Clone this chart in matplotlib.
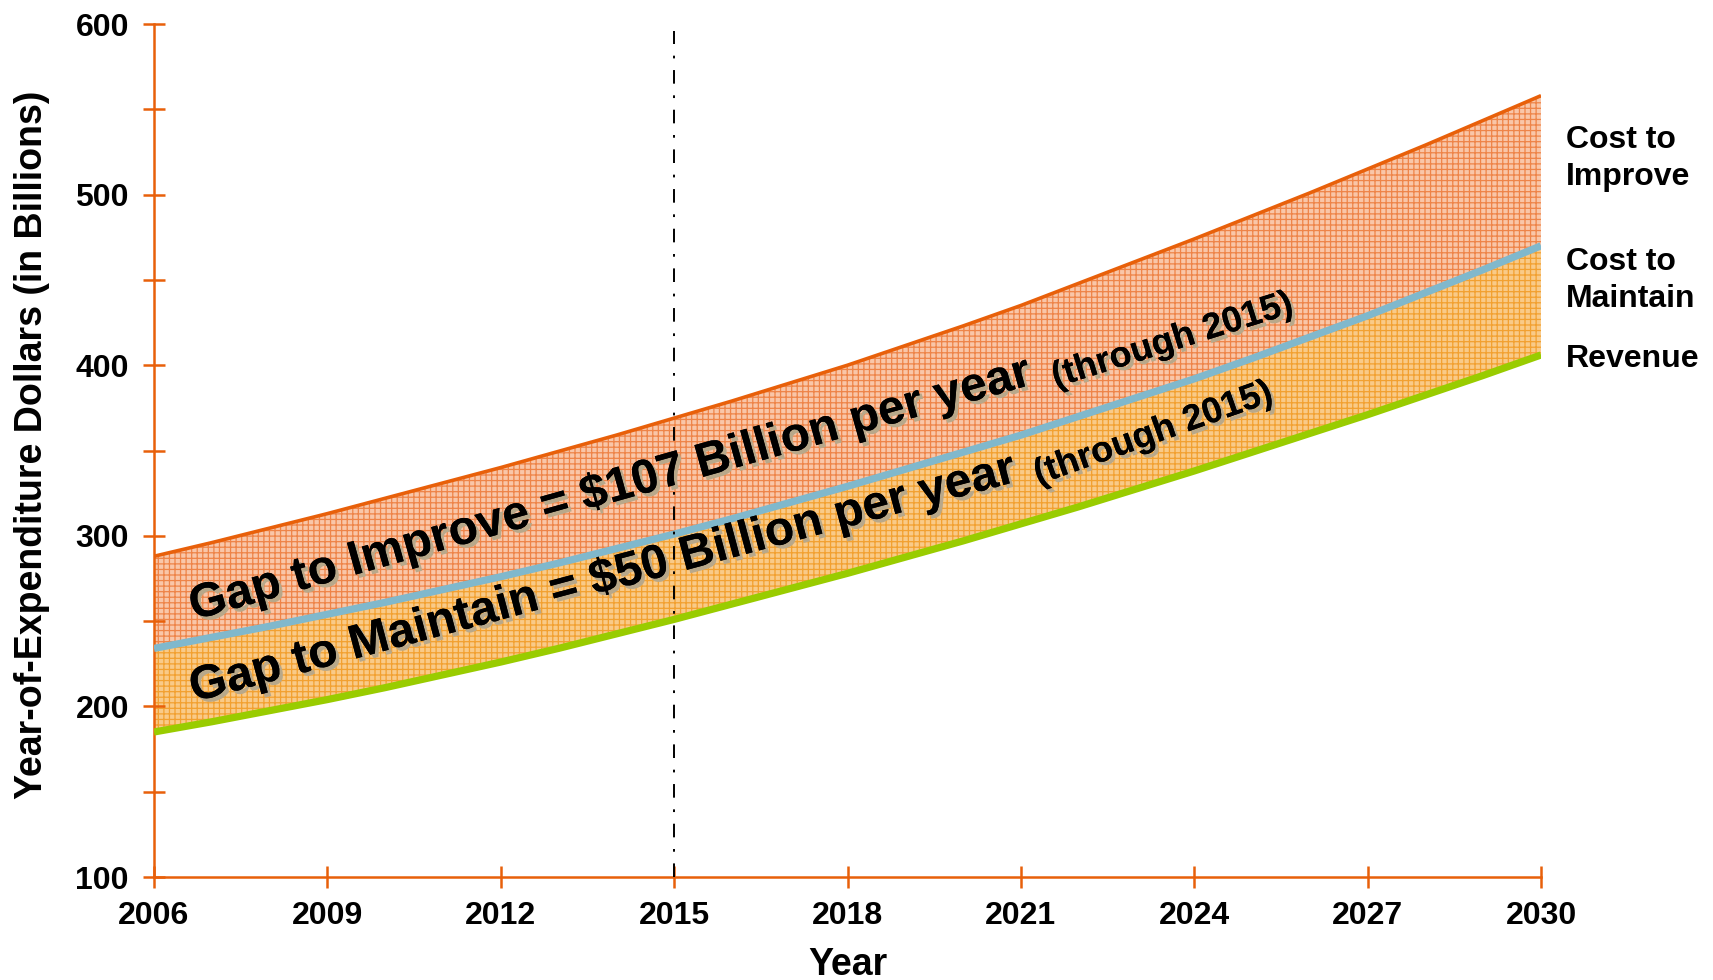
import matplotlib.pyplot as plt
import matplotlib.patheffects as pe
plt.switch_backend('agg')

plt.rcParams['font.family'] = ['Liberation Sans', 'DejaVu Sans']
plt.rcParams['font.weight'] = 'bold'
plt.rcParams['hatch.linewidth'] = 0.9

years = list(range(2006, 2031))
cost_to_improve = [288, 296, 304.5, 313, 322, 331, 340, 349.5, 359, 369, 379, 389.5, 400,
                   411.5, 423, 435, 448, 461, 474, 487.5, 501, 515, 529, 543.5, 558]
cost_to_maintain = [234, 240.5, 247, 254, 261, 268.5, 276, 284, 292.5, 301, 310, 319.5, 329,
                    339, 349, 359, 370, 381, 392, 404, 416.5, 429, 442.5, 456, 470]
revenue = [185, 191, 197.5, 204, 211, 218.5, 226, 234, 242.5, 251, 260, 269, 278,
           287.5, 297, 307, 317, 327.5, 338, 349, 360, 371, 382.5, 394, 406]

x_ticks = [2006, 2009, 2012, 2015, 2018, 2021, 2024, 2027, 2030]
y_ticks = [100, 200, 300, 400, 500, 600]
y_minor = [150, 250, 350, 450, 550]
projection_year = 2015

gap_improve = 'Gap to Improve = $107 Billion per year'
gap_maintain = 'Gap to Maintain = $50 Billion per year'
through = '(through 2015)'

axis_orange = '#E8600A'

fig = plt.figure(figsize=(17.13, 9.8), dpi=100)
ax = fig.add_axes([0.0899, 0.1051, 0.8097, 0.8704])

# shaded gaps
ax.fill_between(years, cost_to_maintain, cost_to_improve, facecolor='#F9C6A8',
                edgecolor='#EE8448', hatch='+++', linewidth=0, zorder=1)
ax.fill_between(years, revenue, cost_to_maintain, facecolor='#F9CA88',
                edgecolor='#F2A030', hatch='+++', linewidth=0, zorder=1)

ax.plot(years, cost_to_improve, color=axis_orange, lw=2.6, zorder=3, solid_capstyle='butt')
ax.plot(years, cost_to_maintain, color='#80B8CC', lw=5.2, zorder=3, solid_capstyle='butt')
ax.plot(years, revenue, color='#99CC00', lw=5.2, zorder=3, solid_capstyle='butt')

ax.vlines(projection_year, 100, 596, colors='black', lw=1.4,
          linestyles=[(0, (7, 6, 1.4, 6))], zorder=4)

ax.set_xlim(2006, 2030)
ax.set_ylim(100, 600)
ax.set_xticks(x_ticks)
ax.set_yticks(y_ticks)
ax.set_yticks(y_minor, minor=True)
ax.tick_params(axis='both', which='both', direction='inout', length=16,
               width=1.8, color=axis_orange, labelsize=23)
ax.tick_params(axis='x', pad=9)
ax.tick_params(axis='y', pad=10)
ax.tick_params(axis='x', which='minor', length=0)

for s in ['top', 'right']:
    ax.spines[s].set_visible(False)
for s in ['left', 'bottom']:
    ax.spines[s].set_color(axis_orange)
    ax.spines[s].set_linewidth(1.8)

ax.set_xlabel('Year', fontsize=27, fontweight='bold', labelpad=12)
ax.set_ylabel('Year-of-Expenditure Dollars (in Billions)', fontsize=27,
              fontweight='bold')
ax.yaxis.set_label_coords(-0.075, 0.507)

shadow = [pe.withSimplePatchShadow(offset=(2.5, -2.5), shadow_rgbFace='#B8A88A', alpha=1.0),
          pe.Normal()]

ax.text(2006.69, 250.6, gap_improve, fontsize=34.5, fontweight='bold', rotation=15.7,
        rotation_mode='anchor', ha='left', va='baseline', path_effects=shadow, zorder=5)
ax.text(2021.6, 387, through, fontsize=26, fontweight='bold', rotation=17.4,
        rotation_mode='anchor', ha='left', va='baseline', path_effects=shadow, zorder=5)
ax.text(2006.69, 202.6, gap_maintain, fontsize=34.5, fontweight='bold', rotation=15.0,
        rotation_mode='anchor', ha='left', va='baseline', path_effects=shadow, zorder=5)
ax.text(2021.3, 330, through, fontsize=26, fontweight='bold', rotation=19.5,
        rotation_mode='anchor', ha='left', va='baseline', path_effects=shadow, zorder=5)

fig.text(0.914, 0.838, 'Cost to\nImprove', fontsize=23, fontweight='bold',
         ha='left', va='center', linespacing=1.3)
fig.text(0.914, 0.714, 'Cost to\nMaintain', fontsize=23, fontweight='bold',
         ha='left', va='center', linespacing=1.3)
fig.text(0.914, 0.634, 'Revenue', fontsize=23, fontweight='bold',
         ha='left', va='center')

fig.savefig('out.png', dpi=100)
